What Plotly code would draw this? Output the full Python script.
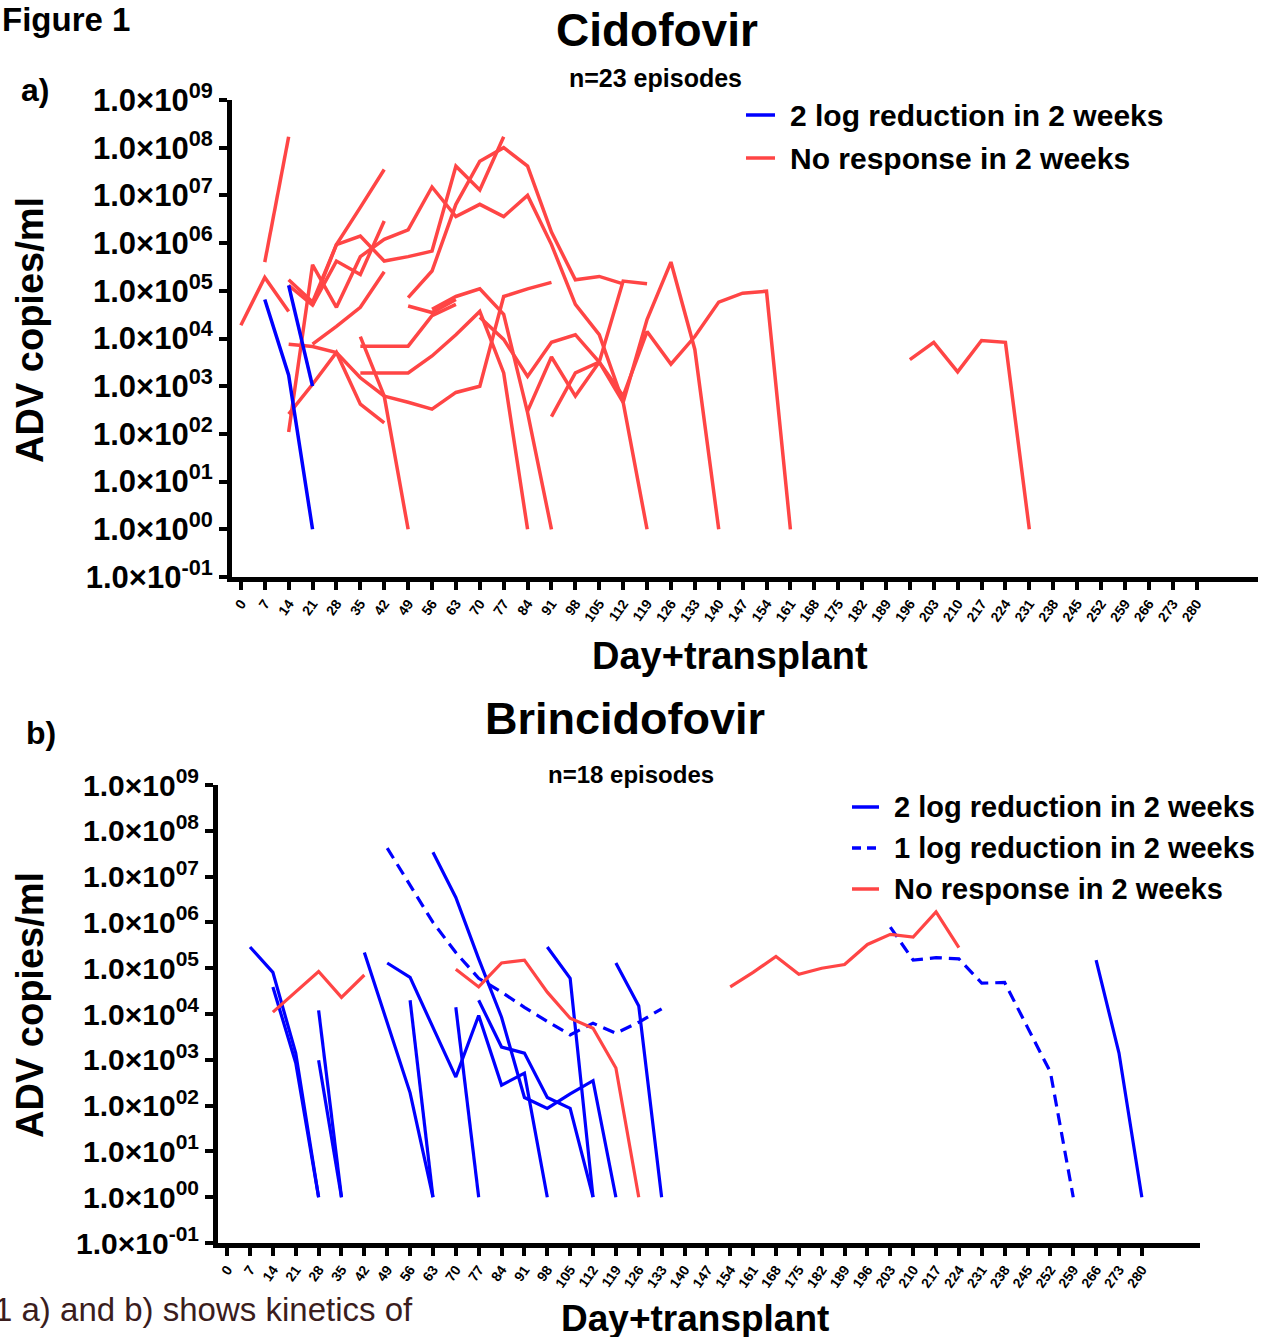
import plotly.graph_objects as go

W, H = 1266, 1337
FONT = "Liberation Sans, Arial, sans-serif"
BLUE = "#0000FF"
RED = "#FF4545"

# ---------------- tick labels ----------------
x_ticks = list(range(0, 281, 7))
y_exps = list(range(-1, 10))
y_ticks = [10.0 ** k for k in y_exps]
y_ticktext = ["1.0×10<sup>%s</sup>" % ("-01" if k < 0 else "%02d" % k) for k in y_exps]

# ---------------- a) Cidofovir ----------------
cido_2log_days = [[7, 14, 21], [14, 21]]
cido_2log_vals = [[6.6e4, 1.7e3, 1], [1.3e5, 1.0e3]]

cido_nr_days = [
    [0, 7, 14],
    [7, 14],
    [14, 21, 28, 35, 42, 49, 56, 63, 70, 77],
    [14, 21, 28, 35, 42],
    [14, 21, 28, 35, 42, 49, 56, 63, 70, 77, 84, 91, 98, 105, 112, 119],
    [49, 56, 63, 70, 77, 84, 91, 98, 105, 112],
    [21, 28, 35, 42],
    [14, 21, 28, 35, 42, 49],
    [14, 21, 28, 35, 42],
    [35, 42, 49, 56, 63, 70, 77, 84, 91],
    [35, 42, 49, 56, 63, 70, 77, 84],
    [70, 77, 84, 91, 98, 105, 112, 119, 126, 133, 140, 147, 154, 161],
    [91, 98, 105, 112, 119],
    [84, 91, 98, 105, 112, 119, 126, 133, 140],
    [56, 63, 70, 77, 84, 91],
    [196, 203, 210, 217, 224, 231],
    [35, 42, 49, 56, 63],
    [49, 56, 63],
    [21, 28, 35, 42],
]
cido_nr_vals = [
    [1.9e4, 1.9e5, 3.7e4],
    [4.0e5, 1.7e8],
    [1.7e5, 5.8e4, 9.3e5, 1.4e6, 4.2e5, 5.2e5, 6.8e5, 4.1e7, 1.3e7, 1.7e8],
    [1.3e5, 5.0e4, 4.2e5, 2.2e5, 2.9e6],
    [1.1e2, 3.5e5, 4.5e4, 5.2e5, 1.2e6, 1.9e6, 1.5e7, 3.6e6, 6.5e6, 3.6e6, 1.0e7, 9.3e5, 5.2e4, 1.2e4, 4.6e2, 1],
    [7.2e4, 2.6e5, 6.5e6, 5.2e7, 1.0e8, 4.1e7, 1.7e6, 1.7e5, 2.0e5, 1.4e5],
    [5.0e4, 9.3e5, 5.6e6, 3.5e7],
    [7.6e3, 6.8e3, 5.1e3, 1.5e3, 6.2e2, 1],
    [2.6e2, 1.1e3, 5.1e3, 4.2e2, 1.7e2],
    [1.1e4, 6.2e2, 4.6e2, 3.3e2, 7.4e2, 1.0e3, 7.6e4, 1.1e5, 1.5e5],
    [1.9e3, 1.9e3, 1.9e3, 4.3e3, 1.2e4, 3.7e4, 1.9e3, 1],
    [2.8e4, 9.6e3, 1.6e3, 8.3e3, 1.2e4, 3.2e3, 6.2e2, 1.4e4, 2.9e3, 1.1e4, 5.8e4, 8.9e4, 9.8e4, 1],
    [2.3e2, 1.9e3, 3.2e3, 1.6e5, 1.4e5],
    [3.0e2, 4.1e3, 6.2e2, 3.2e3, 4.6e2, 2.5e4, 4.0e5, 5.9e3, 1],
    [4.1e4, 7.6e4, 1.1e5, 3.2e4, 2.8e2, 1],
    [3.6e3, 8.3e3, 2.0e3, 9.1e3, 8.3e3, 1],
    [6.9e3, 6.9e3, 6.9e3, 3.0e4, 5.2e4],
    [4.8e4, 3.5e4, 6.6e4],
    [7.6e3, 1.8e4, 4.5e4, 2.5e5],
]

# ---------------- b) Brincidofovir ----------------
brin_2log_days = [
    [7, 14, 21, 28], [14, 21, 28], [28, 35], [28, 35], [42, 49, 56, 63],
    [49, 56, 63, 70, 77, 84, 91, 98], [56, 63], [70, 77],
    [63, 70, 77, 84, 91, 98, 105, 112, 119], [77, 84, 91, 98, 105, 112],
    [98, 105, 112], [119, 126, 133], [266, 273, 280],
]
brin_2log_vals = [
    [2.9e5, 8.1e4, 1.4e3, 1], [3.9e4, 8.5e2, 1], [1.2e4, 1], [9.8e2, 1], [2.2e5, 6.6e3, 1.9e2, 1],
    [1.3e5, 6.3e4, 5.1e3, 4.2e2, 9.3e3, 2.8e2, 5.1e2, 1], [2.0e4, 1], [1.4e4, 1],
    [3.4e7, 3.5e6, 1.6e5, 8.5e3, 1.5e2, 8.7e1, 1.8e2, 3.5e2, 1], [2.0e4, 1.9e3, 1.4e3, 1.5e2, 8.7e1, 1],
    [2.9e5, 6.0e4, 1], [1.3e5, 1.5e4, 1], [1.5e5, 1.4e3, 1],
]
brin_1log_days = [
    [49, 56, 63, 70, 77, 84, 91, 98, 105, 112, 119, 126, 133],
    [203, 210, 217, 224, 231, 238, 245, 252, 259],
]
brin_1log_vals = [
    [4.2e7, 6.5e6, 1.0e6, 2.2e5, 6.0e4, 3.0e4, 1.4e4, 6.9e3, 3.5e3, 6.3e3, 3.8e3, 6.6e3, 1.3e4],
    [7.9e5, 1.5e5, 1.7e5, 1.6e5, 4.7e4, 4.9e4, 5.1e3, 5.4e2, 1],
]
brin_nr_days = [
    [14, 21, 28, 35, 42],
    [70, 77, 84, 91, 98, 105, 112, 119, 126],
    [154, 161, 168, 175, 182, 189, 196, 203, 210, 217, 224],
]
brin_nr_vals = [
    [1.1e4, 3.1e4, 8.5e4, 2.3e4, 7.1e4],
    [9.5e4, 3.9e4, 1.3e5, 1.5e5, 3.0e4, 8.1e3, 4.9e3, 6.6e2, 1],
    [3.9e4, 8.1e4, 1.8e5, 7.4e4, 1.0e5, 1.2e5, 3.3e5, 5.5e5, 4.8e5, 1.7e6, 2.8e5],
]


def join(days_list, vals_list):
    xs, ys = [], []
    for d, v in zip(days_list, vals_list):
        xs += list(d) + [None]
        ys += list(v) + [None]
    return xs, ys


fig = go.Figure()


def add(days, vals, color, xa, ya, width, dash="solid"):
    xs, ys = join(days, vals)
    fig.add_trace(go.Scatter(x=xs, y=ys, mode="lines", xaxis=xa, yaxis=ya,
                             line=dict(color=color, width=width, dash=dash),
                             showlegend=False, hoverinfo="skip"))


add(cido_nr_days, cido_nr_vals, RED, "x", "y", 3.5)
add(cido_2log_days, cido_2log_vals, BLUE, "x", "y", 3.5)
add(brin_2log_days, brin_2log_vals, BLUE, "x2", "y2", 3.2)
add(brin_1log_days, brin_1log_vals, BLUE, "x2", "y2", 3.2, dash="12px,7px")
add(brin_nr_days, brin_nr_vals, RED, "x2", "y2", 3.2)


def px(x):
    return x / W


def py(y):
    return 1 - y / H


common = dict(showgrid=False, zeroline=False, showline=True, linecolor="black",
              linewidth=5, ticks="outside", tickcolor="black", tickwidth=4,
              ticklen=8, automargin=False)

xcommon = dict(common, tickmode="array", tickvals=x_ticks,
               ticktext=[str(t) for t in x_ticks], tickangle=-55,
               tickfont=dict(family=FONT, size=14, color="black", weight="bold"))
ycommon = dict(common, type="log", range=[-1, 9], tickmode="array",
               tickvals=y_ticks, ticktext=y_ticktext,
               tickfont=dict(family=FONT, size=31, color="black", weight="bold"))

fig.update_layout(
    width=W, height=H, margin=dict(l=0, r=0, t=0, b=0),
    paper_bgcolor="white", plot_bgcolor="white", showlegend=False,
    xaxis=dict(xcommon, domain=[px(232), px(1258)], range=[-2.6, 298.0], anchor="y"),
    yaxis=dict(ycommon, domain=[py(577), py(100)], anchor="x"),
    xaxis2=dict(xcommon, domain=[px(218), px(1200)], range=[-2.8, 297.8], anchor="y2"),
    yaxis2=dict(ycommon, domain=[py(1243), py(785)], anchor="x2",
                tickfont=dict(family=FONT, size=30, color="black", weight="bold")),
)

annos = []


def txt(text, x, y, size, xanchor="center", bold=True, angle=0, color="black"):
    annos.append(dict(text=("<b>%s</b>" % text) if bold else text,
                      x=px(x), y=py(y), xref="paper", yref="paper",
                      xanchor=xanchor, yanchor="middle", showarrow=False,
                      textangle=angle,
                      font=dict(family=FONT, size=size, color=color)))


txt("Figure 1", 0, 20, 33, xanchor="left")
txt("a)", 19, 90, 32, xanchor="left")
txt("b)", 24, 733, 32, xanchor="left")
txt("Cidofovir", 657, 30, 46)
txt("n=23 episodes", 655, 78, 25)
txt("Brincidofovir", 625, 718, 45)
txt("n=18 episodes", 631, 774, 24)
txt("ADV copies/ml", 30, 330, 38, angle=-90)
txt("ADV copies/ml", 30, 1005, 38, angle=-90)
txt("Day+transplant", 730, 656, 38)
txt("Day+transplant", 695, 1318, 37)
txt("1 a) and b) shows kinetics of", -8, 1309, 33, xanchor="left", bold=False, color="#3b1d1d")

# legends (drawn manually)
shapes = []


def leg(x0, x1, y, color, label, size, dash="solid"):
    shapes.append(dict(type="line", xref="paper", yref="paper",
                       x0=px(x0), x1=px(x1), y0=py(y), y1=py(y),
                       line=dict(color=color, width=3.5, dash=dash)))
    txt(label, x1 + 13, y, size, xanchor="left")


leg(746, 775, 115, BLUE, "2 log reduction in 2 weeks", 30)
leg(746, 775, 158, RED, "No response in 2 weeks", 30)
leg(852, 879, 807, BLUE, "2 log reduction in 2 weeks", 29)
leg(852, 879, 848, BLUE, "1 log reduction in 2 weeks", 29, dash="9px,6px")
leg(852, 879, 889, RED, "No response in 2 weeks", 29)

fig.update_layout(annotations=annos, shapes=shapes)

fig.write_html("out.html", config={"displayModeBar": False},
               post_script="document.body.style.margin='0px';document.body.style.overflow='hidden';")
